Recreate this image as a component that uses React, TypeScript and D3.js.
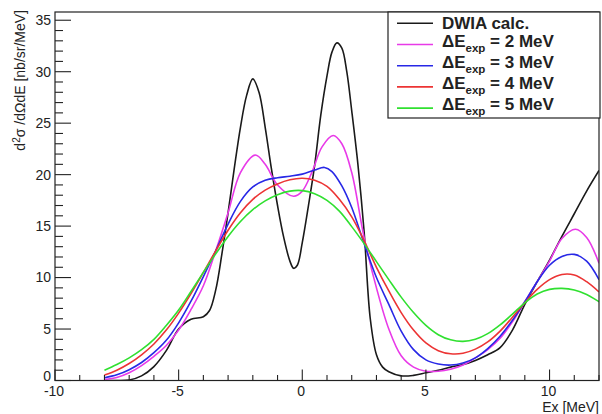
import React from 'react';
import * as d3 from 'd3';

// ---------- data ----------
const X_DOMAIN: [number, number] = [-10, 12];
const Y_DOMAIN: [number, number] = [0, 35.8];
const X_MAJOR = [-10, -5, 0, 5, 10];
const Y_MAJOR = [0, 5, 10, 15, 20, 25, 30, 35];

const DWIA_X = [-8, -7.5, -7, -6.5, -6, -5.5, -5, -4.5, -4, -3.75, -3.5, -3.25, -3, -2.75, -2.5, -2.25, -2, -1.75, -1.5, -1.25, -1, -0.75, -0.5, -0.35, -0.2, 0, 0.25, 0.5, 0.75, 1, 1.2, 1.4, 1.6, 1.8, 2, 2.25, 2.5, 2.75, 3, 3.25, 3.5, 4, 4.5, 5, 5.5, 6, 6.5, 7, 7.5, 8, 8.5, 9, 9.5, 10, 10.5, 11, 11.5, 12];
const DWIA_Y = [0, 0, 0.05, 0.45, 1.35, 2.9, 5.0, 5.95, 6.2, 6.8, 8.8, 12.3, 16.3, 20.6, 24.6, 27.7, 29.3, 28.0, 24.6, 20.6, 17.0, 13.9, 11.6, 10.9, 11.2, 13.4, 17.0, 20.9, 25.8, 29.6, 31.9, 32.8, 32.3, 30.0, 26.2, 21.0, 14.5, 6.0, 2.5, 1.3, 0.85, 0.45, 0.5, 0.75, 1.0, 1.3, 1.55, 1.95, 2.5, 3.2, 4.9, 7.4, 9.6, 11.7, 14.0, 16.2, 18.4, 20.4];

const DE2_X = [-8, -7.5, -7, -6.5, -6, -5.5, -5, -4.5, -4, -3.5, -3, -2.5, -1.9, -1.5, -1, -0.35, 0, 0.4, 0.8, 1.25, 1.6, 2, 2.5, 3, 3.5, 4, 4.5, 5, 5.5, 6, 6.5, 7, 7.5, 8, 8.5, 9, 9.5, 10, 10.5, 11.05, 11.5, 12];
const DE2_Y = [0.1, 0.3, 0.75, 1.45, 2.35, 3.4, 4.9, 6.9, 9.2, 12.6, 16.3, 20.2, 21.9, 21.0, 19.0, 17.9, 18.4, 20.3, 22.7, 23.8, 23.0, 20.2, 13.9, 9.0, 5.0, 2.4, 1.3, 0.9, 0.9, 1.1, 1.5, 2.2, 3.0, 4.1, 5.7, 7.65, 9.6, 11.6, 13.8, 14.7, 13.9, 11.4];

const DE3_X = [-8, -7.5, -7, -6.5, -6, -5.5, -5, -4.5, -4, -3.5, -3, -2.5, -2, -1.5, -1, -0.5, 0, 0.5, 0.9, 1.2, 1.6, 2, 2.5, 3, 3.5, 4, 4.5, 5, 5.5, 6, 6.5, 7, 7.5, 8, 8.5, 9, 9.5, 10, 10.5, 11, 11.5, 12];
const DE3_Y = [0.27, 0.55, 1.05, 1.75, 2.7, 3.9, 5.6, 7.7, 10.1, 12.6, 15.2, 17.4, 18.8, 19.45, 19.7, 19.85, 20.05, 20.45, 20.7, 20.3, 18.9, 16.8, 13.3, 10.0, 7.4, 4.8, 3.0, 2.0, 1.6, 1.5, 1.7, 2.2, 3.1, 4.3, 5.85, 7.65, 9.6, 11.2, 12.05, 12.25, 11.6, 9.8];

const DE4_X = [-8, -7.5, -7, -6.5, -6, -5.5, -5, -4.5, -4, -3.5, -3, -2.5, -2, -1.5, -1, -0.5, 0, 0.5, 1, 1.5, 2, 2.5, 3, 3.5, 4, 4.5, 5, 5.5, 6, 6.5, 7, 7.5, 8, 8.5, 9, 9.5, 10, 10.5, 11, 11.5, 12];
const DE4_Y = [0.53, 1.0, 1.65, 2.5, 3.55, 4.9, 6.55, 8.45, 10.5, 12.6, 14.6, 16.3, 17.6, 18.5, 19.1, 19.5, 19.65, 19.45, 18.85, 17.6, 15.9, 13.6, 11.0, 8.7, 6.6, 4.9, 3.65, 2.9, 2.6, 2.65, 3.05, 3.75, 4.8, 6.15, 7.55, 8.85, 9.8, 10.3, 10.25, 9.6, 8.6];

const DE5_X = [-8, -7.5, -7, -6.5, -6, -5.5, -5, -4.5, -4, -3.5, -3, -2.5, -2, -1.5, -1, -0.5, 0, 0.5, 1, 1.5, 2, 2.5, 3, 3.5, 4, 4.5, 5, 5.5, 6, 6.5, 7, 7.5, 8, 8.5, 9, 9.5, 10, 10.5, 11, 11.5, 12];
const DE5_Y = [1.0, 1.55, 2.2, 3.0, 4.0, 5.35, 6.85, 8.65, 10.5, 12.3, 14.0, 15.45, 16.6, 17.45, 18.05, 18.4, 18.45, 18.15, 17.5, 16.45, 14.95, 13.3, 11.55, 9.8, 8.1, 6.6, 5.35, 4.45, 3.95, 3.8, 4.0, 4.55, 5.4, 6.45, 7.55, 8.4, 8.85, 8.95, 8.8, 8.35, 7.65];

const SERIES_NAMES = ['DWIA calc.', '2', '3', '4', '5'];
const SERIES_COLORS = ['#1a1a1a', '#e83ae8', '#2828e6', '#ec3434', '#30e030'];

const FONT = '"Liberation Sans", Arial, Helvetica, sans-serif';

export default function App() {
  const left = 55, right = 599, top = 12, bottom = 380.5;
  const x = d3.scaleLinear().domain(X_DOMAIN).range([left, right]);
  const y = d3.scaleLinear().domain(Y_DOMAIN).range([bottom, top]);

  const mk = (xs: number[], ys: number[]) =>
    d3
      .line<number>()
      .x((_, i) => x(xs[i]))
      .y((d) => y(d))
      .curve(d3.curveCatmullRom.alpha(0.5))(ys) || '';

  const series = [
    { xs: DWIA_X, ys: DWIA_Y },
    { xs: DE2_X, ys: DE2_Y },
    { xs: DE3_X, ys: DE3_Y },
    { xs: DE4_X, ys: DE4_Y },
    { xs: DE5_X, ys: DE5_Y },
  ];

  const xMinor = x.ticks(22).filter((t) => !X_MAJOR.includes(t));
  const yMinor = d3.range(Y_DOMAIN[0], 36, 1).filter((t) => !Y_MAJOR.includes(t) && t <= Y_DOMAIN[1]);

  const legX = 388, legY = 12, legW = 212, legH = 106;
  const rowY = (i: number) => 23.3 + i * 21.2;

  return (
    <svg
      width={602}
      height={414}
      style={{ position: 'absolute', left: 0, top: 0, background: '#fff' }}
      fontFamily={FONT}
    >
      <rect x={0} y={0} width={602} height={414} fill="#fff" />
      <defs>
        <clipPath id="plotclip">
          <rect x={left} y={top} width={right - left} height={bottom - top} />
        </clipPath>
      </defs>

      {/* curves */}
      <g clipPath="url(#plotclip)" fill="none" strokeWidth={1.6} strokeLinejoin="round">
        {series.map((s, i) => (
          <path key={i} d={mk(s.xs, s.ys)} stroke={SERIES_COLORS[i]} />
        ))}
      </g>

      {/* frame */}
      <rect x={left} y={top} width={right - left} height={bottom - top} fill="none" stroke="#222" strokeWidth={1.2} />

      {/* x ticks */}
      {X_MAJOR.map((t) => (
        <g key={'xm' + t}>
          <line x1={x(t)} x2={x(t)} y1={bottom} y2={bottom - 11} stroke="#222" strokeWidth={1.1} />
          <text x={x(t) - 1} y={395.5} textAnchor="middle" fontSize={14} fill="#222">
            {t}
          </text>
        </g>
      ))}
      {xMinor.map((t) => (
        <line key={'xn' + t} x1={x(t)} x2={x(t)} y1={bottom} y2={bottom - 5.5} stroke="#222" strokeWidth={1.1} />
      ))}

      {/* y ticks */}
      {Y_MAJOR.map((t) => (
        <g key={'ym' + t}>
          <line x1={left} x2={left + 16} y1={y(t)} y2={y(t)} stroke="#222" strokeWidth={1.1} />
          <text x={51} y={t === 0 ? 381 : y(t)} dy={t === 0 ? 0 : '0.35em'} textAnchor="end" fontSize={14} fill="#222">
            {t}
          </text>
        </g>
      ))}
      {yMinor.map((t) => (
        <line key={'yn' + t} x1={left} x2={left + 8} y1={y(t)} y2={y(t)} stroke="#222" strokeWidth={1.1} />
      ))}

      {/* axis titles */}
      <text x={599} y={412} textAnchor="end" fontSize={14} fill="#222">
        Ex [MeV]
      </text>
      <text transform="translate(25,10) rotate(-90)" textAnchor="end" fontSize={14} fill="#222">
        d<tspan fontSize={10} dy={-5}>2</tspan>
        <tspan dy={5}>σ /dΩdE [nb/sr/MeV]</tspan>
      </text>

      {/* legend */}
      <rect x={legX} y={legY} width={legW} height={legH} fill="#fff" stroke="#222" strokeWidth={1.2} />
      {SERIES_NAMES.map((name, i) => (
        <g key={'leg' + i}>
          <line x1={397} x2={433} y1={rowY(i)} y2={rowY(i)} stroke={SERIES_COLORS[i]} strokeWidth={1.6} />
          {i === 0 ? (
            <text x={442} y={rowY(i) + 5.8} fontSize={17} fontWeight="bold" fill="#222">
              {name}
            </text>
          ) : (
            <text x={442} y={rowY(i) + 2} fontSize={17} fontWeight="bold" fill="#222">
              ΔE<tspan fontSize={11.5} dy={5}>exp</tspan>
              <tspan dy={-5}>{` = ${name} MeV`}</tspan>
            </text>
          )}
        </g>
      ))}
    </svg>
  );
}
